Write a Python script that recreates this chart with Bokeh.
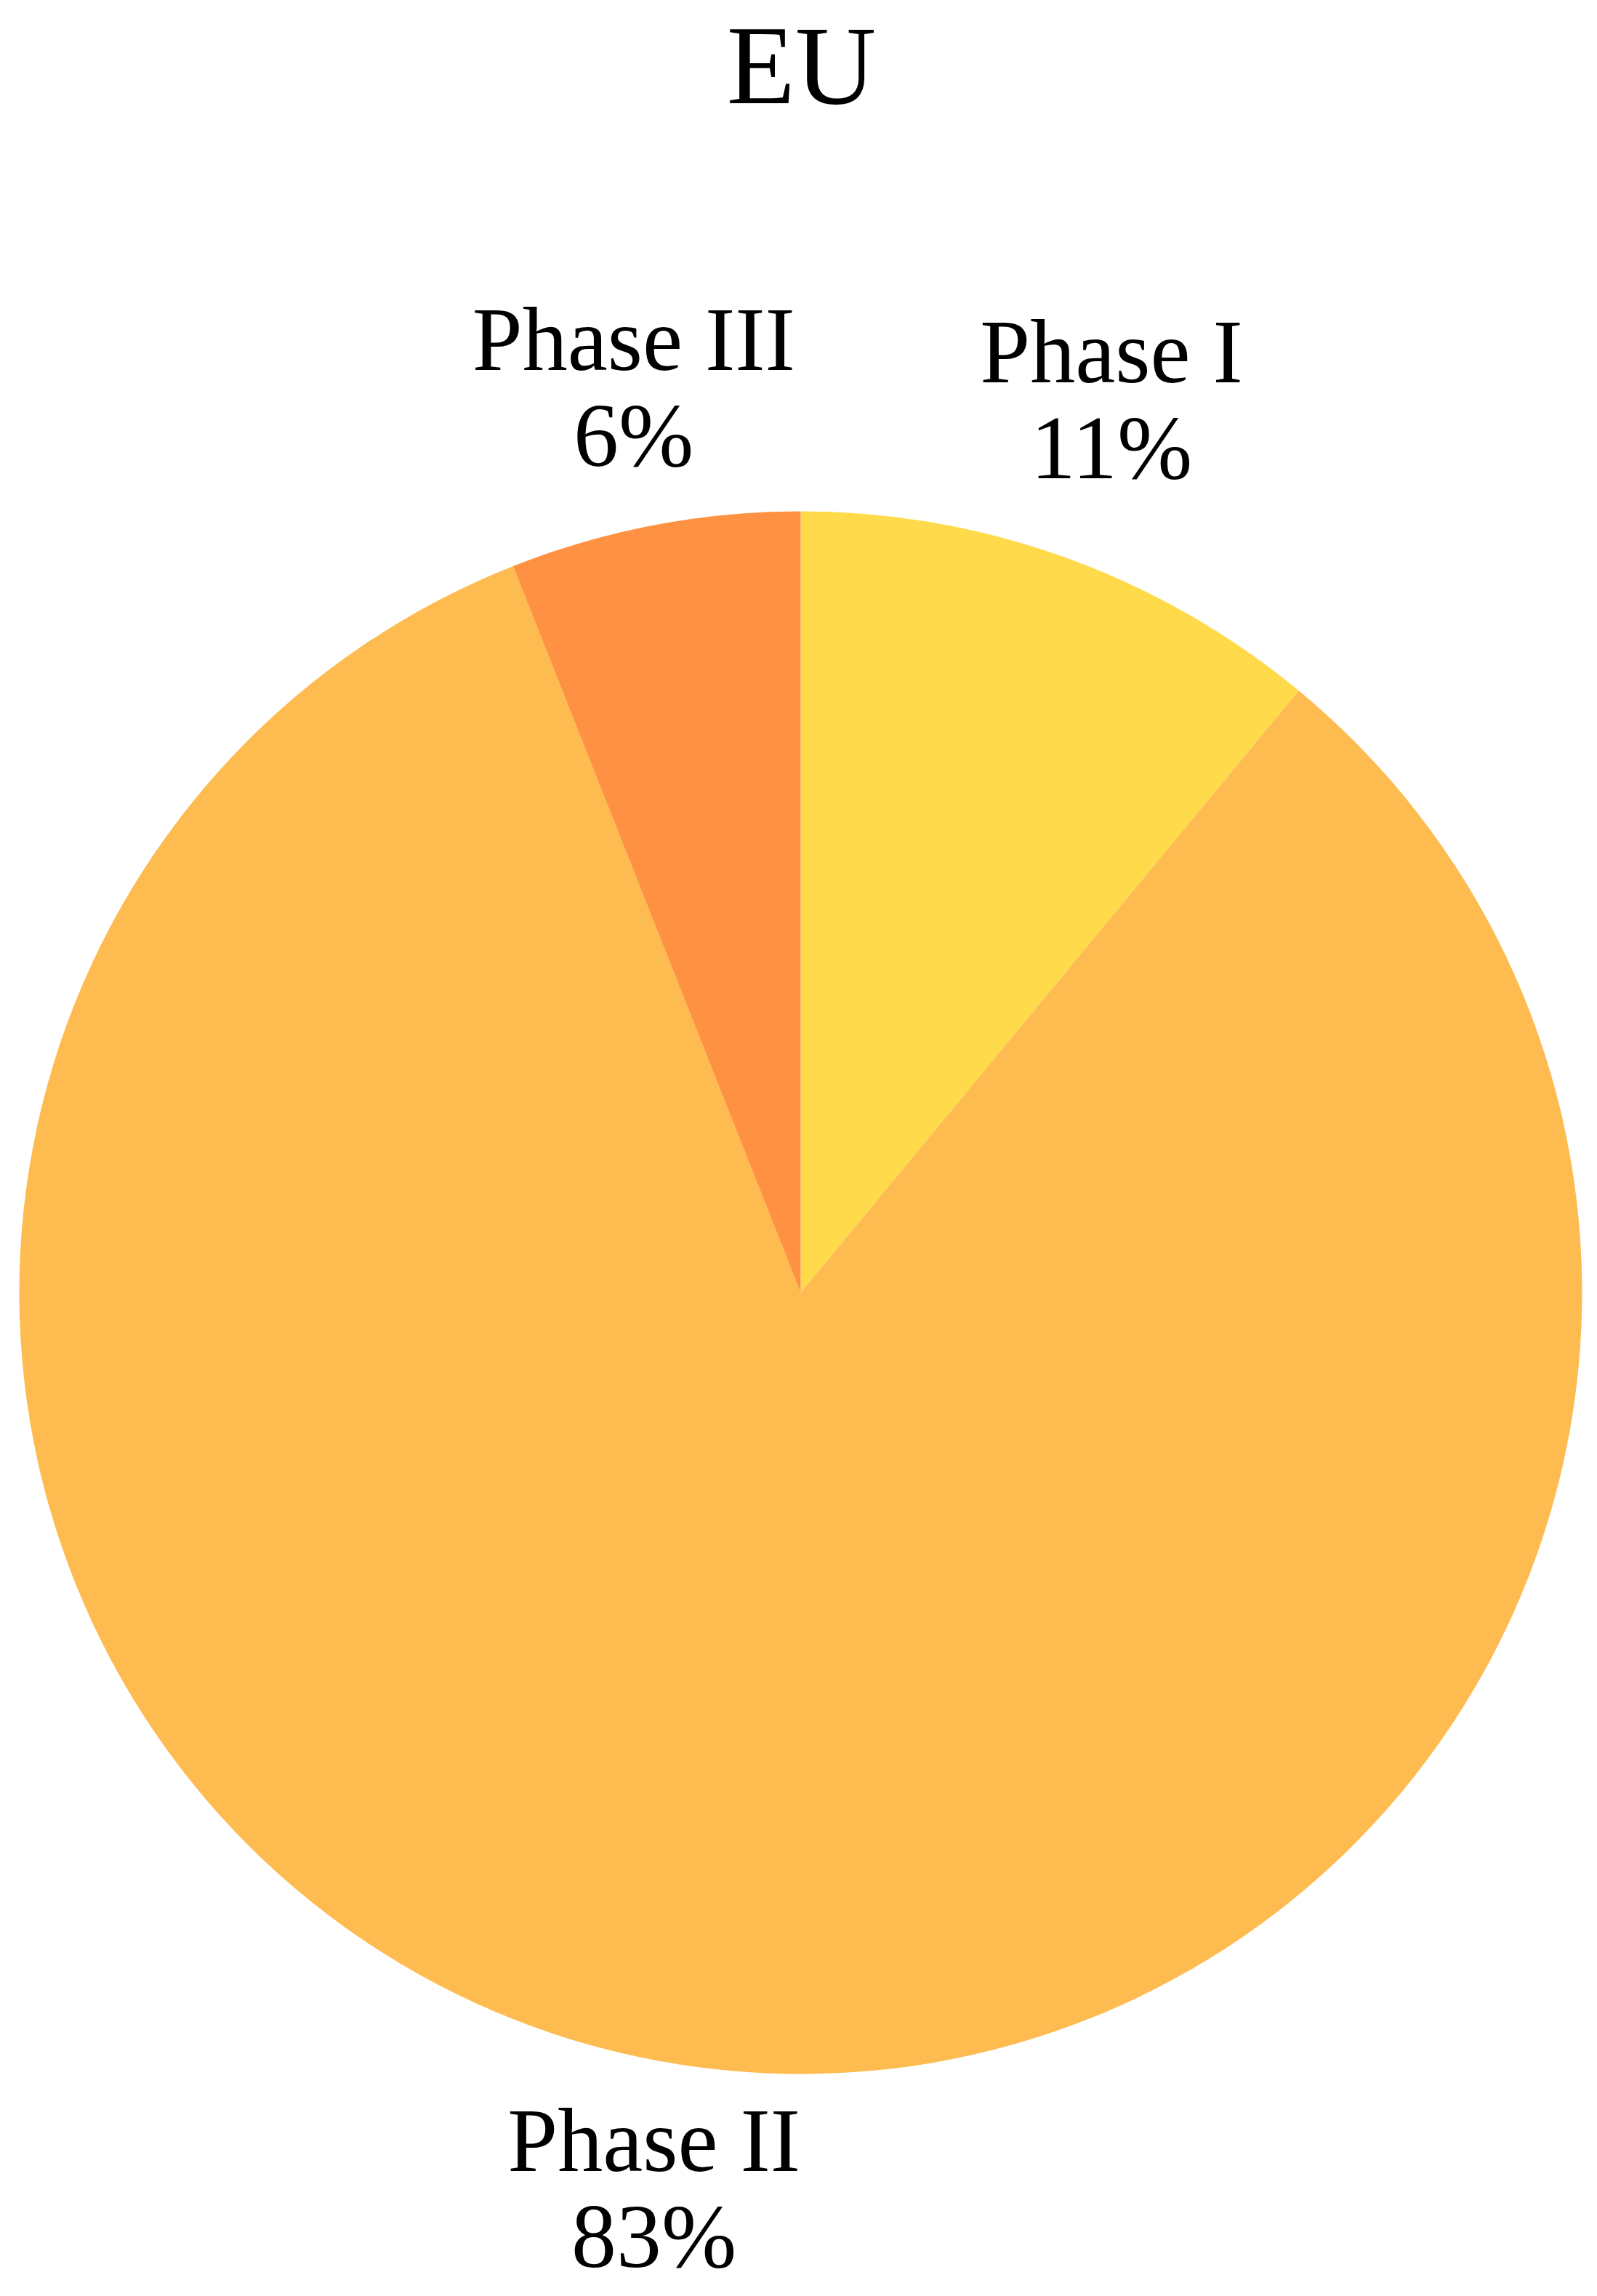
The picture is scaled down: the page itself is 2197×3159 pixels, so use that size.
import math
from bokeh.plotting import figure
from bokeh.models import Range1d
from bokeh.core.properties import value
from bokeh.embed import file_html
from bokeh.resources import INLINE

# ---- data ----
title = "EU"
phases = ["Phase I", "Phase II", "Phase III"]
shares = [11, 83, 6]
colors = ["#FFDA4B", "#FDBB50", "#FF9142"]

# ---- layout (screen pixels; data y = -screen y) ----
W, H = 2181, 3159
OX, OY = 0, 0
cx, cy, R = 1101, 1778, 1075
label_r = [1262, 1290, 1226]
font = "Liberation Serif"
lab_size = 124
ttl_size = 154
lab_shift = 0.33 * lab_size
ttl_shift = 0.33 * ttl_size

p = figure(width=W, height=H, output_backend="svg", toolbar_location=None,
           x_range=Range1d(OX, OX + W), y_range=Range1d(-(OY + H), -OY),
           min_border=0, outline_line_color=None)
p.axis.visible = False
p.grid.visible = False
p.background_fill_color = "white"
p.border_fill_color = "white"

total = sum(shares)
start = math.pi / 2
starts, ends, lx, ly = [], [], [], []
for i, s in enumerate(shares):
    sweep = 2 * math.pi * s / total
    end = start - sweep
    starts.append(start)
    ends.append(end)
    mid = (start + end) / 2
    lx.append(cx + label_r[i] * math.cos(mid))
    ly.append(-cy + label_r[i] * math.sin(mid))
    start = end

p.wedge(x=[cx] * 3, y=[-cy] * 3, radius=R, start_angle=starts, end_angle=ends,
        direction="clock", fill_color=colors, line_color=None)

p.text(x=lx, y=[y + 66 + lab_shift for y in ly], text=phases, text_align="center",
       text_baseline="alphabetic", text_font=value(font),
       text_font_size=f"{lab_size}px", text_color="black")
p.text(x=lx, y=[y - 66 + lab_shift for y in ly], text=[f"{s}%" for s in shares],
       text_align="center", text_baseline="alphabetic", text_font=value(font),
       text_font_size=f"{lab_size}px", text_color="black")

p.text(x=[1102], y=[-140 + ttl_shift], text=[title], text_align="center",
       text_baseline="alphabetic", text_font=value(font),
       text_font_size=f"{ttl_size}px", text_color="black")

open("out.html", "w").write(file_html(p, INLINE))
